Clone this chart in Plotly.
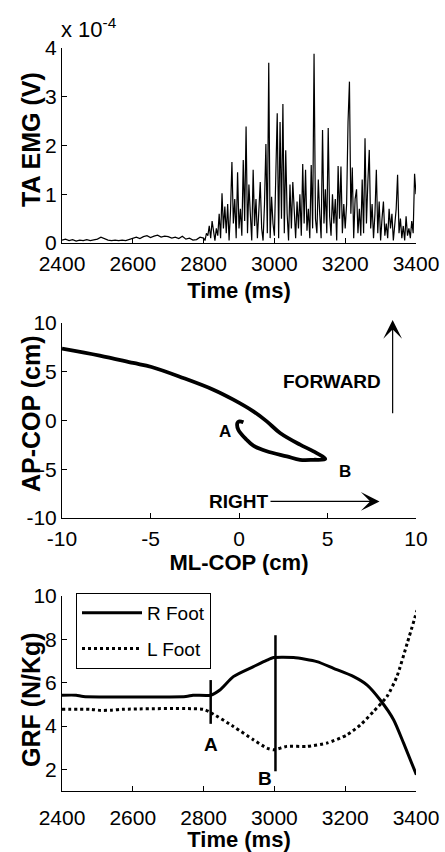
import numpy as np
import plotly.graph_objects as go

# ---------------- data ----------------
# TA EMG (x 1e-4 V)
emg_base_t = np.arange(2400, 2800, 10)
emg_base = [0.06, 0.08, 0.05, 0.07, 0.04, 0.06, 0.05, 0.07, 0.05, 0.06,
            0.08, 0.12, 0.09, 0.06, 0.05, 0.06, 0.05, 0.06, 0.05, 0.07,
            0.10, 0.12, 0.09, 0.13, 0.15, 0.11, 0.14, 0.16, 0.12, 0.14,
            0.13, 0.10, 0.12, 0.09, 0.14, 0.08, 0.10, 0.06, 0.07, 0.12]
emg_act_t = np.arange(2800, 3401, 4)
emg_act = [0.10, 0.05, 0.20, 0.15, 0.35, 0.10, 0.45, 0.20, 0.05, 0.30,
           0.15, 0.60, 0.10, 1.02, 0.30, 0.75, 0.20, 0.80, 0.05, 0.65,
           1.66, 0.40, 0.90, 0.10, 1.45, 0.30, 0.70, 0.15, 1.70, 0.45,
           2.39, 0.20, 1.20, 0.60, 0.05, 1.50, 0.35, 0.90, 0.10, 0.65,
           1.25, 0.30, 0.05, 0.80, 2.03, 0.20, 3.70, 0.10, 0.95, 0.40,
           0.15, 1.40, 2.66, 0.10, 2.48, 0.50, 2.85, 0.20, 1.90, 0.60,
           0.05, 1.20, 0.30, 1.25, 0.60, 0.10, 0.85, 0.30, 1.00, 0.15,
           1.62, 0.40, 1.50, 0.25, 0.70, 0.10, 1.60, 0.30, 3.88, 0.50,
           0.20, 1.30, 0.60, 0.10, 2.32, 0.40, 1.10, 0.20, 2.36, 0.55,
           0.15, 1.00, 0.40, 0.90, 0.05, 1.58, 0.50, 1.57, 0.20, 0.80,
           0.30, 0.80, 2.48, 3.31, 0.60, 1.55, 0.10, 0.90, 1.10, 0.20,
           0.70, 0.15, 1.30, 0.20, 2.15, 0.40, 1.25, 1.91, 0.30, 0.80,
           0.10, 0.60, 1.50, 0.20, 0.85, 0.05, 0.50, 0.85, 0.15, 0.40,
           0.10, 0.70, 0.30, 0.60, 0.05, 0.40, 0.70, 1.40, 0.20, 0.50,
           0.10, 0.35, 0.05, 0.55, 0.15, 0.30, 0.10, 0.45, 0.20, 1.42,
           1.00]
emg_t = list(emg_base_t) + list(emg_act_t)
emg_v = emg_base + emg_act

# COP path (cm)
cop_ml = [-10.0, -7.87, -5.98, -4.94, -3.15, -1.45, -0.32, 0.81, 1.57, 2.32,
          3.45, 4.21, 4.87, 4.21, 3.45, 2.70, 1.57, 0.81, 0.43, -0.04, -0.09,
          0.02, 0.25]
cop_ap = [7.37, 6.65, 5.90, 5.49, 4.36, 3.16, 2.14, 0.94, -0.09, -1.28,
          -2.48, -3.16, -3.95, -4.03, -4.03, -3.68, -3.16, -2.58, -1.97, -0.94,
          -0.26, -0.09, -0.19]

# GRF (N/Kg)
r_t = [2400, 2440, 2460, 2750, 2770, 2820, 2846, 2884, 2941, 2979, 2998, 3054,
       3120, 3167, 3224, 3262, 3299, 3337, 3365, 3401]
r_v = [5.42, 5.42, 5.36, 5.36, 5.42, 5.42, 5.66, 6.28, 6.74, 7.04, 7.16, 7.16,
       6.97, 6.66, 6.28, 5.89, 5.20, 4.28, 3.21, 1.75]
l_t = [2400, 2480, 2510, 2540, 2570, 2800, 2820, 2884, 2941, 2979, 2998, 3035,
       3092, 3148, 3205, 3243, 3280, 3318, 3346, 3375, 3403]
l_v = [4.77, 4.77, 4.72, 4.73, 4.77, 4.77, 4.62, 3.98, 3.36, 2.98, 2.90, 3.06,
       3.06, 3.21, 3.59, 4.05, 4.67, 5.36, 6.28, 7.81, 9.34]

event_t = [2820, 3003]
event_lo = [4.10, 1.91]
event_hi = [6.12, 8.19]
event_lbl = ["A", "B"]

time_ticks = [2400, 2600, 2800, 3000, 3200, 3400]
emg_ticks = [0, 1, 2, 3, 4]
cop_ticks = [-10, -5, 0, 5, 10]
cop_ticktext = ["-10", "-5", "0", "5", "10"]
grf_ticks = [2, 4, 6, 8, 10]

# ---------------- figure ----------------
W, H = 445, 852
FONT = "Liberation Sans, Arial, Helvetica, sans-serif"
fig = go.Figure()

fig.add_trace(go.Scatter(x=emg_t, y=emg_v, mode="lines",
                         line=dict(color="black", width=1.2),
                         showlegend=False, xaxis="x", yaxis="y"))
fig.add_trace(go.Scatter(x=cop_ml, y=cop_ap, mode="lines",
                         line=dict(color="black", width=3.8, shape="spline"),
                         showlegend=False, xaxis="x2", yaxis="y2"))
fig.add_trace(go.Scatter(x=r_t, y=r_v, mode="lines", name="R Foot",
                         line=dict(color="black", width=3, shape="spline", smoothing=0.6),
                         legendgroup="r", xaxis="x3", yaxis="y3"))
fig.add_trace(go.Scatter(x=l_t, y=l_v, mode="lines", name="L Foot",
                         line=dict(color="black", width=3, dash="dot", shape="spline", smoothing=0.6),
                         legendgroup="l", xaxis="x3", yaxis="y3"))
for t, lo, hi in zip(event_t, event_lo, event_hi):
    fig.add_trace(go.Scatter(x=[t, t], y=[lo, hi], mode="lines",
                             line=dict(color="black", width=2.5),
                             showlegend=False, xaxis="x3", yaxis="y3"))

def px_y(top, bottom):
    return [1 - bottom / H, 1 - top / H]

xdom = [62 / W, 416 / W]
axis_common = dict(showline=True, linecolor="black", linewidth=1, ticks="inside",
                   ticklen=5, tickcolor="black", showgrid=False, zeroline=False,
                   mirror=False, automargin=False,
                   tickfont=dict(family=FONT, size=21, color="black"))
title_font = dict(family=FONT, size=22, color="black")

fig.update_layout(
    template="none",
    width=W, height=H, margin=dict(l=0, r=0, t=0, b=0, autoexpand=False),
    paper_bgcolor="white", plot_bgcolor="white",
    font=dict(family=FONT, color="black"),
    xaxis=dict(domain=xdom, range=[2400, 3400], tickvals=time_ticks, anchor="y",
               title=dict(text="<b>Time (ms)</b>", font=title_font, standoff=8),
               ticklabelstandoff=2, **axis_common),
    yaxis=dict(domain=px_y(48, 243), range=[0, 4], tickvals=emg_ticks, anchor="x", **axis_common),
    xaxis2=dict(domain=xdom, range=[-10, 10], tickvals=cop_ticks, ticktext=cop_ticktext, anchor="y2",
                title=dict(text="<b>ML-COP (cm)</b>", font=title_font, standoff=4),
                ticklabelstandoff=2, **axis_common),
    yaxis2=dict(domain=px_y(323, 518), range=[-10, 10], tickvals=cop_ticks, ticktext=cop_ticktext,
                anchor="x2", **axis_common),
    xaxis3=dict(domain=xdom, range=[2400, 3400], tickvals=time_ticks, anchor="y3",
                title=dict(text="<b>Time (ms)</b>", font=title_font, standoff=5),
                ticklabelstandoff=8, **axis_common),
    yaxis3=dict(domain=px_y(596, 791), range=[1, 10], tickvals=grf_ticks, anchor="x3", **axis_common),
    legend=dict(x=76 / W, y=1 - 593 / H, xanchor="left", yanchor="top",
                bordercolor="black", borderwidth=1, bgcolor="white",
                font=dict(family=FONT, size=19, color="black"),
                tracegroupgap=8, itemwidth=60),
)

ann = []
# y-axis titles
for txt, yc in [("TA EMG (V)", 140), ("AP-COP (cm)", 414), ("GRF (N/Kg)", 700)]:
    ann.append(dict(text="<b>%s</b>" % txt, xref="paper", yref="paper", x=31 / W, y=1 - yc / H,
                    textangle=-90, showarrow=False, font=dict(family=FONT, size=25, color="black"),
                    xanchor="center", yanchor="middle"))
# exponent label
ann.append(dict(text="x 10<sup>-4</sup>", xref="paper", yref="paper", x=59 / W, y=1 - 28 / H,
                showarrow=False, xanchor="left", yanchor="middle",
                font=dict(family=FONT, size=22, color="black")))
# COP labels
ann.append(dict(text="<b>A</b>", x=-0.77, y=-1.11, xref="x2", yref="y2", showarrow=False,
                font=dict(family=FONT, size=17, color="black")))
ann.append(dict(text="<b>B</b>", x=6.0, y=-5.2, xref="x2", yref="y2", showarrow=False,
                font=dict(family=FONT, size=17, color="black")))
ann.append(dict(text="<b>FORWARD</b>", x=5.25, y=4.0, xref="x2", yref="y2", showarrow=False,
                font=dict(family=FONT, size=19, color="black")))
ann.append(dict(text="<b>RIGHT</b>", x=7.94, y=-8.3, ax=0.0, ay=-8.3, xref="x2", yref="y2",
                axref="x2", ayref="y2", showarrow=True, arrowhead=3, arrowsize=2.6,
                arrowwidth=1.2, arrowcolor="black", standoff=0,
                font=dict(family=FONT, size=19, color="black")))
ann.append(dict(text="", x=8.68, y=10.3, ax=8.68, ay=0.6, xref="x2", yref="y2",
                axref="x2", ayref="y2", showarrow=True, arrowhead=3, arrowsize=2.6,
                arrowwidth=1.2, arrowcolor="black"))
# GRF event labels
for t, lbl, yv in zip(event_t, event_lbl, [3.13, 1.6]):
    ann.append(dict(text="<b>%s</b>" % lbl, x=t if lbl == "A" else t - 29, y=yv, xref="x3", yref="y3",
                    showarrow=False, font=dict(family=FONT, size=19, color="black")))
fig.update_layout(annotations=ann)

fig.write_html("out.html", config={"displayModeBar": False},
               post_script="document.body.style.margin='0px';document.body.style.overflow='hidden';")
